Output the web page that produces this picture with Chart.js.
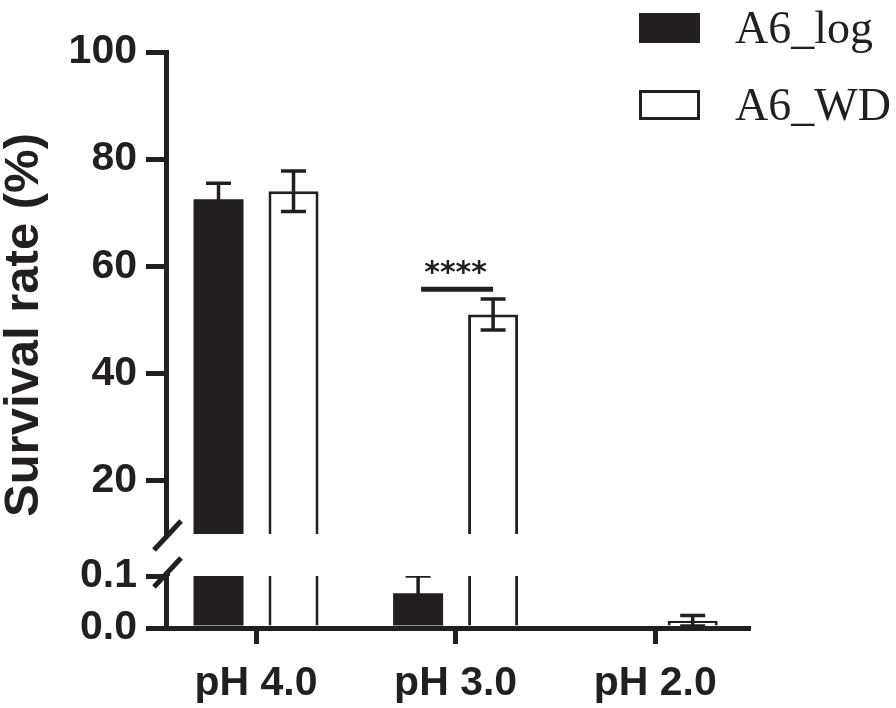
<!DOCTYPE html>
<html>
<head>
<meta charset="utf-8">
<script src="https://cdn.jsdelivr.net/npm/chart.js@4.4.1/dist/chart.umd.min.js"></script>
<style>
  html, body { margin: 0; padding: 0; background: #fff; }
  #wrap { position: relative; width: 896px; height: 708px; overflow: hidden; }
  #wrap canvas { position: absolute; left: 0; }
  #topChart { top: 0; }
  #bottomChart { top: 540px; }
  .legend-box { position: absolute; box-sizing: border-box; }
  .legend-text { position: absolute; font-family: "Liberation Serif", "Times New Roman", serif; font-size: 46px; line-height: 46px; color: #231f20; white-space: nowrap; }
</style>
</head>
<body>
<div id="wrap">
  <canvas id="topChart" width="896" height="598"></canvas>
  <canvas id="bottomChart" width="896" height="168"></canvas>
  <div id="legend"></div>
</div>
<script>
// data
const categories = ["pH 4.0", "pH 3.0", "pH 2.0"];
const seriesNames = ["A6_log", "A6_WD"];
const logValues = [72.5, 0.067, 0];
const logErrors = [3.0, 0.033, 0];
const wdValues = [74.0, 51.0, 0.014];
const wdErrors = [3.8, 2.9, 0.01];
const upperTicks = [20, 40, 60, 80, 100];
const lowerTicks = [0, 0.1];
const upperRange = [10, 100];
const lowerRange = [0, 0.1];
const sigIndex = 1;
const sigLabel = "****";
const sigValue = 55.7;

const INK = "#231f20";
const SANS = "'Liberation Sans', Arial, sans-serif";
Chart.defaults.font.family = SANS;
Chart.defaults.color = INK;

const tickFont = { family: SANS, size: 41, weight: "bold" };

function makeDatasets() {
  return [{
    label: seriesNames[0],
    data: logValues,
    errors: logErrors,
    backgroundColor: INK,
    borderColor: INK,
    borderWidth: 0,
    clip: 0
  }, {
    label: seriesNames[1],
    data: wdValues,
    errors: wdErrors,
    backgroundColor: "#ffffff",
    borderColor: INK,
    borderWidth: 3,
    borderSkipped: "start",
    clip: 0
  }];
}

function xScale(visible) {
  return {
    type: "linear",
    offset: false,
    min: -0.451,
    max: 2.465,
    afterBuildTicks: s => { s.ticks = categories.map((c, i) => ({ value: i })); },
    afterFit: s => { s.height = visible ? 80 : 64; },
    grid: { display: visible, offset: false, drawOnChartArea: false, tickLength: 16, lineWidth: 5, color: INK },
    border: { display: visible, width: 5, color: INK },
    ticks: {
      display: visible,
      autoSkip: false,
      maxRotation: 0,
      padding: 15,
      font: tickFont,
      color: INK,
      callback: v => categories[v]
    }
  };
}

function yScale(range, tickList, width, fmt) {
  return {
    min: range[0],
    max: range[1],
    afterBuildTicks: s => { s.ticks = tickList.map(v => ({ value: v })); },
    afterFit: s => { s.width = width; },
    grid: { drawOnChartArea: false, tickLength: 20, lineWidth: 5, color: INK },
    border: { display: true, width: 5, color: INK },
    ticks: { autoSkip: false, padding: 9, font: tickFont, color: INK, callback: fmt }
  };
}

// error bars, clipped to each panel
const errorBars = {
  id: "errorBars",
  afterDatasetsDraw(chart) {
    const { ctx, chartArea, scales: { y } } = chart;
    ctx.save();
    ctx.beginPath();
    ctx.rect(chartArea.left, chartArea.top, chartArea.right - chartArea.left, chartArea.bottom - chartArea.top);
    ctx.clip();
    ctx.strokeStyle = INK;
    ctx.lineWidth = 3.5;
    chart.data.datasets.forEach((ds, di) => {
      chart.getDatasetMeta(di).data.forEach((bar, i) => {
        const err = ds.errors[i];
        if (!err) return;
        const v = ds.data[i];
        const hi = y.getPixelForValue(v + err);
        const lo = y.getPixelForValue(v - err);
        const half = bar.width / 4;
        ctx.beginPath();
        ctx.moveTo(bar.x, hi); ctx.lineTo(bar.x, lo);
        ctx.moveTo(bar.x - half, hi); ctx.lineTo(bar.x + half, hi);
        ctx.moveTo(bar.x - half, lo); ctx.lineTo(bar.x + half, lo);
        ctx.stroke();
      });
    });
    ctx.restore();
  }
};

// significance bar over pH 3.0
const significance = {
  id: "significance",
  afterDatasetsDraw(chart) {
    const { ctx, scales: { y } } = chart;
    const a = chart.getDatasetMeta(0).data[sigIndex];
    const b = chart.getDatasetMeta(1).data[sigIndex];
    const yy = y.getPixelForValue(sigValue);
    ctx.save();
    ctx.strokeStyle = INK;
    ctx.lineWidth = 5;
    ctx.beginPath();
    ctx.moveTo(a.x + 3, yy); ctx.lineTo(b.x, yy);
    ctx.stroke();
    ctx.fillStyle = INK;
    ctx.font = "bold 30px 'DejaVu Sans'";
    ctx.textAlign = "center";
    ctx.textBaseline = "alphabetic";
    ctx.fillText(sigLabel, (a.x + b.x) / 2, yy - 7);
    ctx.restore();
  }
};

// slash marks of the broken axis
const axisBreak = {
  id: "axisBreak",
  afterDraw(chart, args, opts) {
    const { ctx, chartArea } = chart;
    const x = chartArea.left + 1.5;
    const y = opts.edge === "bottom" ? chartArea.bottom + 1.5 : chartArea.top - 3.5;
    ctx.save();
    ctx.strokeStyle = INK;
    ctx.lineWidth = 5;
    ctx.beginPath();
    ctx.moveTo(x - 13.5, y + 14.5);
    ctx.lineTo(x + 13.5, y - 14.5);
    if (opts.edge === "top") {
      ctx.moveTo(x, y);
      ctx.lineTo(x, chartArea.top);
    }
    ctx.stroke();
    ctx.restore();
  }
};

const topChart = new Chart(document.getElementById("topChart"), {
  type: "bar",
  data: { labels: categories.map((c, i) => i), datasets: makeDatasets() },
  options: {
    responsive: false,
    animation: false,
    devicePixelRatio: 1,
    categoryPercentage: 0.7515,
    barPercentage: 0.667,
    layout: { padding: { left: 0, top: 52, right: 148, bottom: 0 } },
    scales: {
      x: xScale(false),
      y: yScale(upperRange, upperTicks, 117, v => String(v))
    },
    plugins: {
      legend: { display: false },
      tooltip: { enabled: false },
      title: {
        display: true,
        position: "left",
        text: "Survival rate (%)",
        color: INK,
        font: { family: SANS, size: 49, weight: "bold", lineHeight: 1 },
        padding: { top: 0, bottom: 0 }
      },
      axisBreak: { edge: "bottom" }
    }
  },
  plugins: [errorBars, significance, axisBreak]
});

new Chart(document.getElementById("bottomChart"), {
  type: "bar",
  data: { labels: categories.map((c, i) => i), datasets: makeDatasets() },
  options: {
    responsive: false,
    animation: false,
    devicePixelRatio: 1,
    categoryPercentage: 0.7515,
    barPercentage: 0.667,
    layout: { padding: { left: 0, top: 36, right: 148, bottom: 0 } },
    scales: {
      x: xScale(true),
      y: yScale(lowerRange, lowerTicks, 166, v => v.toFixed(1))
    },
    plugins: {
      legend: { display: false },
      tooltip: { enabled: false },
      axisBreak: { edge: "top" }
    }
  },
  plugins: [errorBars, axisBreak]
});

// legend built from the chart's datasets
const legendEl = document.getElementById("legend");
topChart.data.datasets.forEach((ds, i) => {
  const box = document.createElement("div");
  box.className = "legend-box";
  box.style.left = "639px";
  box.style.top = (13 + 77 * i) + "px";
  box.style.width = "61px";
  box.style.height = "30px";
  box.style.background = ds.backgroundColor;
  box.style.border = "3px solid " + ds.borderColor;
  legendEl.appendChild(box);

  const txt = document.createElement("div");
  txt.className = "legend-text";
  txt.style.left = "735px";
  txt.style.top = (4.5 + 77 * i) + "px";
  txt.textContent = ds.label;
  legendEl.appendChild(txt);
});
</script>
</body>
</html>
